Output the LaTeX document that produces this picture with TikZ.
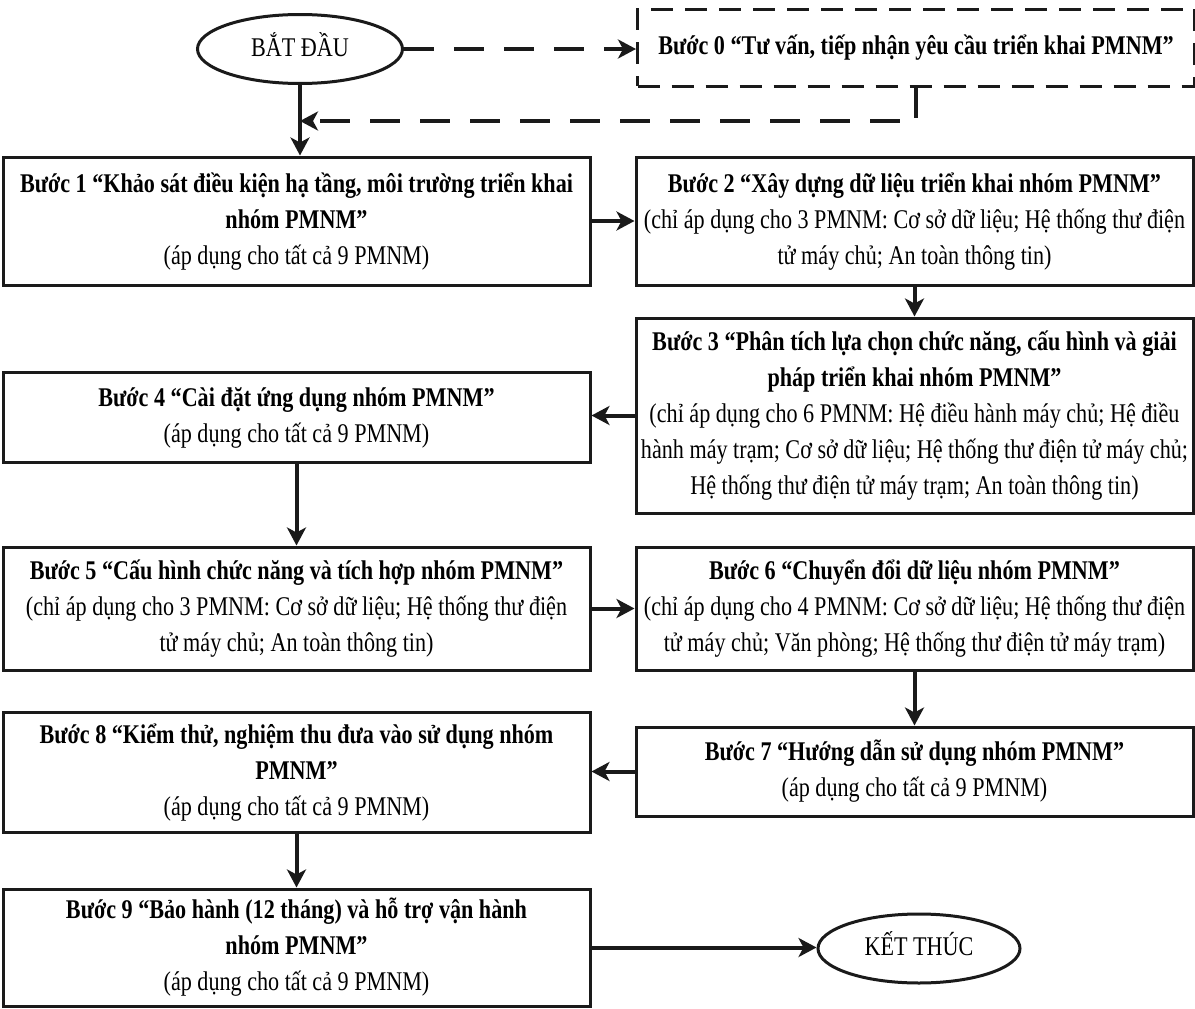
\documentclass[tikz,border=0pt]{standalone}
\usepackage{fontspec}
\setmainfont{Liberation Serif}
\usetikzlibrary{arrows.meta,positioning,shapes.geometric}
\definecolor{inkline}{HTML}{1A1A1A}
\newcommand{\squeezed}[1]{\scalebox{0.82}[1]{\begin{tabular}{@{}c@{}}#1\end{tabular}}}
\tikzset{
  stepbox/.style={draw=inkline,line width=3pt,rectangle,inner sep=0pt},
  leftbox/.style={stepbox,minimum width=587pt},
  rightbox/.style={stepbox,minimum width=557pt},
  termbox/.style={draw=inkline,line width=3pt,ellipse,inner sep=0pt},
  flow/.style={draw=inkline,line width=4pt,-{Stealth[length=18pt,width=19pt,inset=5pt]}},
  flowdash/.style={flow,dash pattern=on 30pt off 20pt}
}

\begin{document}
\begin{tikzpicture}[x=1pt,y=-1pt,font=\fontsize{27}{36}\selectfont]
  \useasboundingbox (0,0) rectangle (1195,1009);
  \node[termbox,minimum width=205pt,minimum height=69pt] (start) at (300,49) {\squeezed{BẮT ĐẦU}};
  \node[rightbox,dash pattern=on 22pt off 12pt,minimum height=77pt] (s0) at (916,47.5)
    {\squeezed{\textbf{Bước 0 “Tư vấn, tiếp nhận yêu cầu triển khai PMNM”}}};
  \node[leftbox,minimum height=128pt] (s1) at (296.5,221)
    {\squeezed{\textbf{Bước 1 “Khảo sát điều kiện hạ tầng, môi trường triển khai}\\
     \textbf{nhóm PMNM”}\\ (áp dụng cho tất cả 9 PMNM)}};
  \node[rightbox,minimum height=128pt] (s2) at (914.5,221)
    {\squeezed{\textbf{Bước 2 “Xây dựng dữ liệu triển khai nhóm PMNM”}\\
     (chỉ áp dụng cho 3 PMNM: Cơ sở dữ liệu; Hệ thống thư điện\\
     tử máy chủ; An toàn thông tin)}};
  \node[rightbox,minimum height=195pt] (s3) at (914.5,415.5)
    {\squeezed{\textbf{Bước 3 “Phân tích lựa chọn chức năng, cấu hình và giải}\\
     \textbf{pháp triển khai nhóm PMNM”}\\
     (chỉ áp dụng cho 6 PMNM: Hệ điều hành máy chủ; Hệ điều\\
     hành máy trạm; Cơ sở dữ liệu; Hệ thống thư điện tử máy chủ;\\
     Hệ thống thư điện tử máy trạm; An toàn thông tin)}};
  \node[leftbox,minimum height=90pt] (s4) at (296.5,417)
    {\squeezed{\textbf{Bước 4 “Cài đặt ứng dụng nhóm PMNM”}\\ (áp dụng cho tất cả 9 PMNM)}};
  \node[leftbox,minimum height=123pt] (s5) at (296.5,608.5)
    {\squeezed{\textbf{Bước 5 “Cấu hình chức năng và tích hợp nhóm PMNM”}\\
     (chỉ áp dụng cho 3 PMNM: Cơ sở dữ liệu; Hệ thống thư điện\\
     tử máy chủ; An toàn thông tin)}};
  \node[rightbox,minimum height=123pt] (s6) at (914.5,608.5)
    {\squeezed{\textbf{Bước 6 “Chuyển đổi dữ liệu nhóm PMNM”}\\
     (chỉ áp dụng cho 4 PMNM: Cơ sở dữ liệu; Hệ thống thư điện\\
     tử máy chủ; Văn phòng; Hệ thống thư điện tử máy trạm)}};
  \node[rightbox,minimum height=89pt] (s7) at (914.5,771.5)
    {\squeezed{\textbf{Bước 7 “Hướng dẫn sử dụng nhóm PMNM”}\\ (áp dụng cho tất cả 9 PMNM)}};
  \node[leftbox,minimum height=120pt] (s8) at (296.5,772)
    {\squeezed{\textbf{Bước 8 “Kiểm thử, nghiệm thu đưa vào sử dụng nhóm}\\
     \textbf{PMNM”}\\ (áp dụng cho tất cả 9 PMNM)}};
  \node[leftbox,minimum height=117pt] (s9) at (296.5,947.5)
    {\squeezed{\textbf{Bước 9 “Bảo hành (12 tháng) và hỗ trợ vận hành}\\
     \textbf{nhóm PMNM”}\\ (áp dụng cho tất cả 9 PMNM)}};
  \node[termbox,minimum width=202pt,minimum height=69pt] (end) at (919,948.5) {\squeezed{KẾT THÚC}};
  \coordinate (back) at (300,121);
  \draw[flowdash] (start.east) -- (start.east -| s0.west);
  \draw[flowdash] (s0.south) |- (back);
  \draw[flow] (start.south) -- (start.south |- s1.north);
  \draw[flow] (s1.east) -- (s2.west);
  \draw[flow] (s2.south) -- (s3.north);
  \draw[flow] (s3.west) -- (s3.west -| s4.east);
  \draw[flow] (s4.south) -- (s5.north);
  \draw[flow] (s5.east) -- (s6.west);
  \draw[flow] (s6.south) -- (s7.north);
  \draw[flow] (s7.west) -- (s7.west -| s8.east);
  \draw[flow] (s8.south) -- (s9.north);
  \draw[flow] (s9.east) -- (s9.east -| end.west);
\end{tikzpicture}
\end{document}
